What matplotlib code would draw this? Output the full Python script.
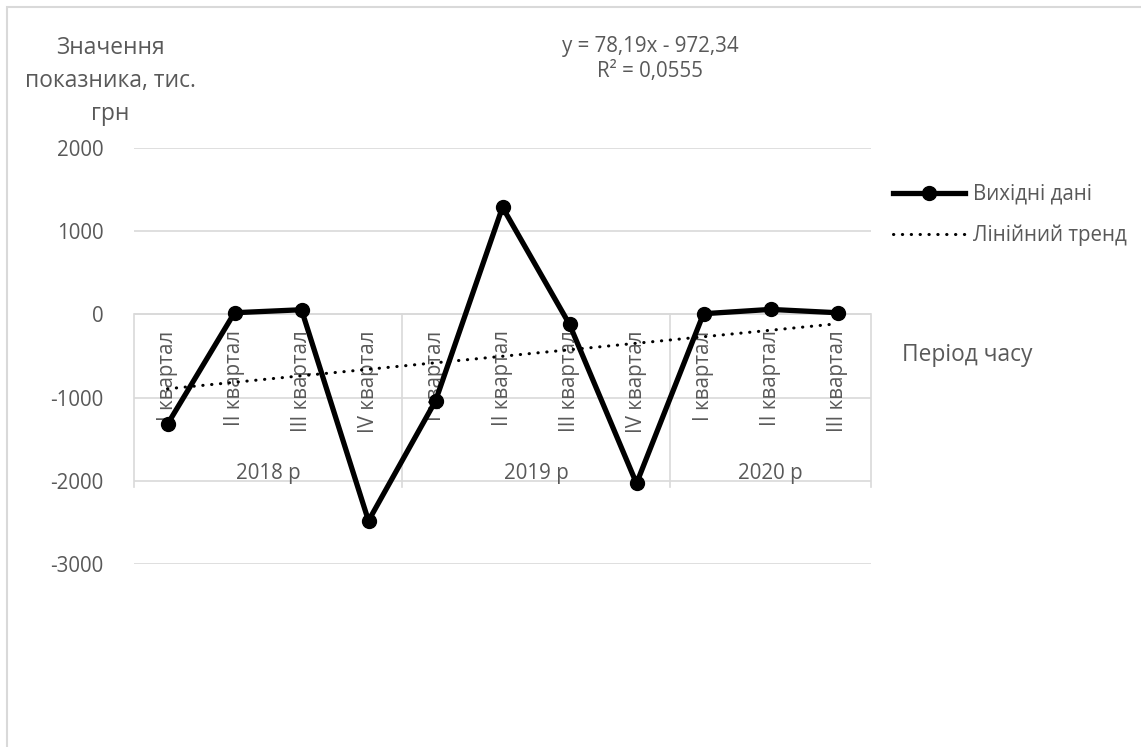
import numpy as np
import matplotlib
matplotlib.use("Agg")
import matplotlib.pyplot as plt
from matplotlib.patches import Rectangle

plt.rcParams['font.family'] = ['Open Sans', 'DejaVu Sans']
plt.rcParams['axes.unicode_minus'] = False

#%% Data
quarters = ["I квартал", "II квартал", "III квартал", "IV квартал",
            "I квартал", "II квартал", "III квартал", "IV квартал",
            "I квартал", "II квартал", "III квартал"]
years = ["2018 р", "2019 р", "2020 р"]
year_sizes = [4, 4, 3]
values = [-1320, 20, 56, -2481, -1040, 1288, -120, -2032, 8, 60, 20]

# trend as printed on the chart
TREND_SLOPE = 78.19
TREND_ICPT = -972.34
trend_label = "y = 78,19x - 972,34\nR² = 0,0555"

y_ticks = [-3000, -2000, -1000, 0, 1000, 2000]

#%% Style
GRID = "#d9d9d9"
TXT = "#595959"
FS = 14.8
FS_TITLE = 16.4

W, H = 1141, 747
fig = plt.figure(figsize=(W / 100, H / 100), dpi=100)
ax = fig.add_axes([134 / W, 1 - 564 / H, (871 - 134) / W, (564 - 148) / H])

# chart border
fig.patches.append(Rectangle((7 / W, -0.1), 1.2, 1 - 7 / H + 0.1,
                             transform=fig.transFigure, fill=False,
                             edgecolor=GRID, lw=1.5, zorder=0))

x = np.arange(len(values))
x_num = x + 1
trend = TREND_SLOPE * x_num + TREND_ICPT

ax.set_xlim(-0.5, len(values) - 0.5)
ax.set_ylim(-3000, 2000)
ax.set_yticks(y_ticks)
ax.yaxis.grid(True, color=GRID, lw=1.2)
ax.set_axisbelow(True)
for s in ax.spines.values():
    s.set_visible(False)
ax.tick_params(axis="y", length=0, pad=22, labelsize=FS, labelcolor=TXT)
ax.tick_params(axis="x", length=0, labelbottom=False)

# category axis at zero
ax.axhline(0, color=GRID, lw=1.2, zorder=1)
bounds = np.concatenate([[0], np.cumsum(year_sizes)]) - 0.5
for b in bounds:
    ax.plot([b, b], [0, -2077], color=GRID, lw=1.2, zorder=1, clip_on=False)
for i, q in enumerate(quarters):
    ax.annotate(q, (x[i], 0), xytext=(0, -11.5), textcoords="offset points",
                rotation=90, ha="center", va="top", fontsize=FS, color=TXT,
                zorder=2)
for j, yr in enumerate(years):
    ax.text((bounds[j] + bounds[j + 1]) / 2, -1910, yr, ha="center",
            va="center", fontsize=FS, color=TXT, zorder=2)

# series
ax.plot(x, values, color="black", lw=3.8, marker="o", markersize=10,
        label="Вихідні дані", zorder=4, solid_joinstyle="miter")
ax.plot(x, trend, color="black", lw=2.2, dashes=(0.1, 2.8),
        dash_capstyle="round", label="Лінійний тренд", zorder=5)

leg = ax.legend(loc="upper left", bbox_to_anchor=(893 / W, 1 - 184 / H),
                bbox_transform=fig.transFigure, frameon=False, fontsize=FS,
                handlelength=3.5, handletextpad=0.4, labelspacing=0.95,
                borderpad=0, borderaxespad=0)
for t in leg.get_texts():
    t.set_color(TXT)

# titles
fig.text(110 / W, 1 - 81 / H, "Значення\nпоказника, тис.\nгрн", ha="center",
         va="center", fontsize=FS_TITLE, color=TXT, linespacing=1.5)
fig.text(650 / W, 1 - 59 / H, trend_label, ha="center", va="center",
         fontsize=FS, color=TXT, linespacing=1.3)
fig.text(902 / W, 1 - 355 / H, "Період часу", ha="left", va="center",
         fontsize=FS_TITLE, color=TXT)

fig.savefig("out.png", dpi=100)
